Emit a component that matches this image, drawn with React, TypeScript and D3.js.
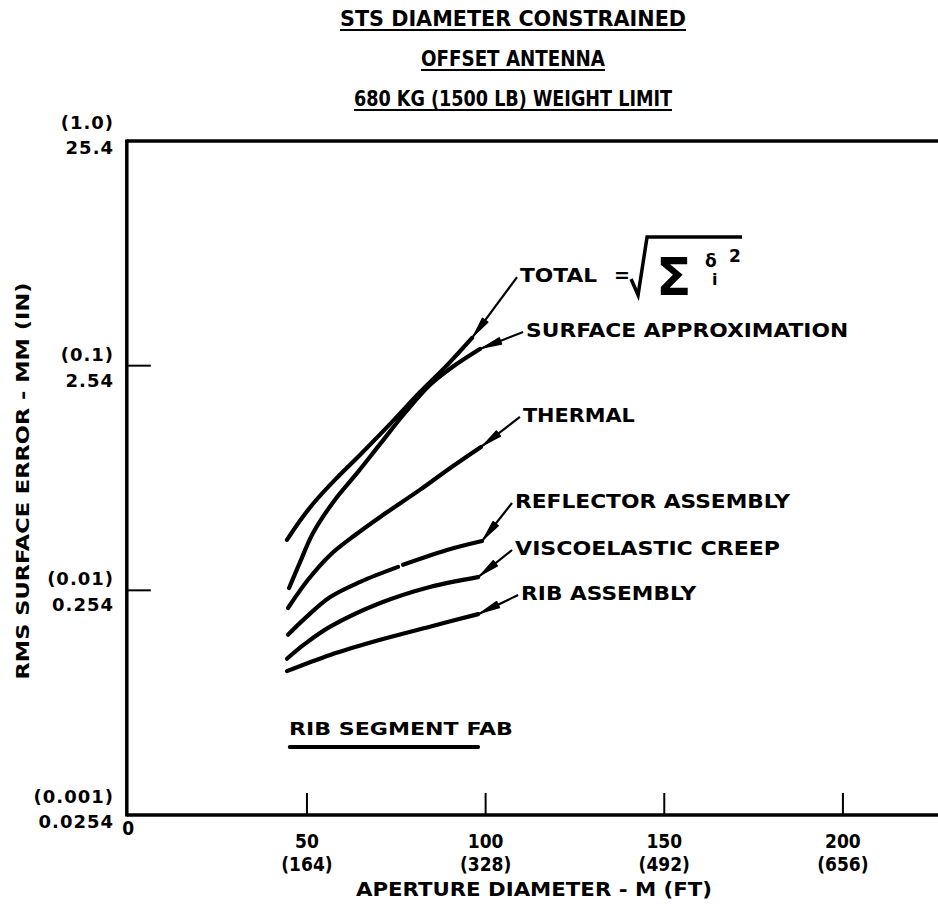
import React from "react";
import * as d3 from "d3";

// ---------- data ----------
const titleLines = ["STS DIAMETER CONSTRAINED", "OFFSET ANTENNA", "680 KG (1500 LB) WEIGHT LIMIT"];

const yTicksMM = [25.4, 2.54, 0.254, 0.0254];
const yTickLabelsMM = ["25.4", "2.54", "0.254", "0.0254"];
const yTickLabelsIN = ["(1.0)", "(0.1)", "(0.01)", "(0.001)"];

const xTicks = [0, 50, 100, 150, 200];
const xTickLabelsM = ["0", "50", "100", "150", "200"];
const xTickLabelsFT = ["", "(164)", "(328)", "(492)", "(656)"];

const xAxisTitle = "APERTURE DIAMETER - M (FT)";
const yAxisTitle = "RMS SURFACE ERROR - MM (IN)";

// aperture diameter (m) vs RMS surface error (mm)
const totalX = [44.4, 48.1, 52.3, 57.9, 64.9, 73.5, 81.6, 89.3, 96.2];
const totalY = [0.426, 0.520, 0.633, 0.790, 1.020, 1.409, 1.935, 2.560, 3.375];

const surfaceX = [45.0, 48.1, 51.7, 57.9, 64.3, 70.5, 77.4, 84.4, 90.6, 98.4];
const surfaceY = [0.260, 0.340, 0.457, 0.645, 0.855, 1.139, 1.564, 2.084, 2.500, 3.014];

const thermalX = [44.7, 50.3, 56.5, 63.5, 70.5, 81.6, 90.1, 98.7];
const thermalY = [0.212, 0.283, 0.365, 0.448, 0.539, 0.711, 0.890, 1.104];

// NaN marks the small break in the drawn line
const reflectorX = [44.7, 49.5, 56.5, 64.9, 75.5, 76.2, 76.9, 89.2, 99.0];
const reflectorY = [0.161, 0.191, 0.237, 0.277, 0.323, NaN, 0.330, 0.384, 0.421];

const viscoX = [44.4, 49.5, 56.5, 70.5, 84.4, 97.9];
const viscoY = [0.126, 0.147, 0.175, 0.223, 0.263, 0.291];

const ribX = [44.4, 56.5, 70.5, 84.4, 97.9];
const ribY = [0.111, 0.131, 0.153, 0.175, 0.199];

const seriesNames = ["TOTAL", "SURFACE APPROXIMATION", "THERMAL", "REFLECTOR ASSEMBLY", "VISCOELASTIC CREEP", "RIB ASSEMBLY"];

// label anchor (leader start) in data units
const labelAnchorX = [108.8, 110.5, 109.6, 107.4, 107.4, 109.1];
const labelAnchorY = [6.30, 3.587, 1.501, 0.622, 0.384, 0.242];

const ribSegmentFabLabel = "RIB SEGMENT FAB";
const ribSegmentFabRange = [45.2, 97.9];
const ribSegmentFabLevel = 0.051;

export default function App() {
  const W = 938, H = 909;
  const x = d3.scaleLinear().domain([0, 227]).range([128.3, 939.4]);
  const y = d3.scaleLog().domain([0.0254, 25.4]).range([815, 141]);

  const series = [
    [totalX, totalY],
    [surfaceX, surfaceY],
    [thermalX, thermalY],
    [reflectorX, reflectorY],
    [viscoX, viscoY],
    [ribX, ribY],
  ];

  const line = d3
    .line<[number, number]>()
    .defined((d) => !isNaN(d[1]))
    .x((d) => x(d[0]))
    .y((d) => y(d[1]))
    .curve(d3.curveCatmullRom.alpha(0.5));

  const font = "'DejaVu Sans', Verdana, sans-serif";
  const narrow = "'Liberation Sans Narrow', 'DejaVu Sans Condensed', 'DejaVu Sans', sans-serif";
  const ink = "#000";

  const labelWidths = [77, 322, 112, 275, 265, 175];
  const titleWidths = [346, 184, 318];

  const xAxisY = y(0.0254);
  const xLeft = x(0) - 1.5;

  return (
    <svg width={W} height={H} viewBox={`0 0 ${W} ${H}`} style={{ display: "block", position: "absolute", left: 0, top: 0, background: "#fff" }}>
      <rect x={0} y={0} width={W} height={H} fill="#fff" />
      {/* titles */}
      {titleLines.map((t, i) => {
        const cy = 26 + i * 40;
        const w = titleWidths[i];
        return (
          <g key={t}>
            <text x={513} y={cy} textAnchor="middle" fontFamily={narrow} fontWeight="bold" fontSize={21} textLength={w} lengthAdjust="spacingAndGlyphs" fill={ink}>
              {t}
            </text>
            <line x1={513 - w / 2} x2={513 + w / 2} y1={cy + 4} y2={cy + 4} stroke={ink} strokeWidth={2} />
          </g>
        );
      })}

      {/* axes frame */}
      <line x1={xLeft} x2={W} y1={y(25.4)} y2={y(25.4)} stroke={ink} strokeWidth={3.5} />
      <line x1={xLeft} x2={W} y1={xAxisY} y2={xAxisY} stroke={ink} strokeWidth={3.5} />
      <line x1={xLeft} x2={xLeft} y1={y(25.4) - 1.5} y2={xAxisY + 1.5} stroke={ink} strokeWidth={3.5} />

      {/* y ticks */}
      {yTicksMM.map((v, i) => {
        const ty = y(v);
        const end = i === 0 || i === yTicksMM.length - 1;
        return (
          <g key={"yt" + i}>
            {!end && <line x1={xLeft} x2={xLeft + 24} y1={ty} y2={ty} stroke={ink} strokeWidth={2} />}
            <text x={114} y={ty + (end ? -12 : -5)} textAnchor="end" fontFamily={font} fontWeight="bold" fontSize={18} letterSpacing={1} fill={ink}>
              {yTickLabelsIN[i]}
            </text>
            <text x={114} y={ty + (end ? 13 : 21)} textAnchor="end" fontFamily={font} fontWeight="bold" fontSize={18} letterSpacing={1} fill={ink}>
              {yTickLabelsMM[i]}
            </text>
          </g>
        );
      })}

      {/* x ticks */}
      {xTicks.map((v, i) => {
        const tx = x(v);
        return (
          <g key={"xt" + i}>
            {v !== 0 && <line x1={tx} x2={tx} y1={xAxisY} y2={xAxisY - 22} stroke={ink} strokeWidth={2} />}
            <text x={tx} y={v === 0 ? xAxisY + 20 : xAxisY + 33} textAnchor="middle" fontFamily={narrow} fontWeight="bold" fontSize={19} fill={ink}>
              {xTickLabelsM[i]}
            </text>
            {xTickLabelsFT[i] && (
              <text x={tx} y={xAxisY + 56} textAnchor="middle" fontFamily={narrow} fontWeight="bold" fontSize={19} fill={ink}>
                {xTickLabelsFT[i]}
              </text>
            )}
          </g>
        );
      })}
      <text x={534} y={xAxisY + 81} textAnchor="middle" fontFamily={narrow} fontWeight="bold" fontSize={20} textLength={356} lengthAdjust="spacingAndGlyphs" fill={ink}>
        {xAxisTitle}
      </text>
      <text transform={`translate(29, 481) rotate(-90)`} textAnchor="middle" fontFamily={font} fontWeight="bold" fontSize={18} textLength={397} lengthAdjust="spacingAndGlyphs" fill={ink}>
        {yAxisTitle}
      </text>

      {/* curves */}
      {series.map(([xs, ys], i) => {
        const pts = xs.map((xv, j) => [xv, ys[j]] as [number, number]);
        return <path key={"s" + i} d={line(pts) || ""} fill="none" stroke={ink} strokeWidth={4.2} strokeLinecap="round" />;
      })}

      {/* leaders + labels */}
      {series.map(([xs, ys], i) => {
        const tipX = x(xs[xs.length - 1]);
        const tipY = y(ys[ys.length - 1]);
        const ax = x(labelAnchorX[i]);
        const ay = y(labelAnchorY[i]);
        const dx = ax - tipX, dy = ay - tipY;
        const len = Math.hypot(dx, dy);
        const ux = dx / len, uy = dy / len;
        const px = -uy, py = ux;
        const t0 = 3, t1 = 22, hw = 3.3;
        const head = `M${tipX + ux * t0},${tipY + uy * t0} L${tipX + ux * t1 + px * hw},${tipY + uy * t1 + py * hw} L${tipX + ux * t1 - px * hw},${tipY + uy * t1 - py * hw} Z`;
        return (
          <g key={"l" + i}>
            <line x1={tipX} y1={tipY} x2={ax} y2={ay} stroke={ink} strokeWidth={2.2} />
            <path d={head} fill={ink} stroke={ink} strokeWidth={1.5} strokeLinejoin="round" />
            <text x={ax + 3} y={ay + 5} fontFamily={font} fontWeight="bold" fontSize={19} textLength={labelWidths[i]} lengthAdjust="spacingAndGlyphs" fill={ink}>
              {seriesNames[i]}
            </text>
            {i === 0 && (
              <g>
                <text x={ax + 97} y={ay + 5} fontFamily={font} fontWeight="bold" fontSize={19} fill={ink}>=</text>
                <path d={`M${ax + 114},${ay + 2} L${ax + 121},${ay + 18} L${ax + 130},${ay - 40} L${ax + 225},${ay - 40}`} fill="none" stroke={ink} strokeWidth={3.5} strokeLinejoin="miter" />
                <text x={ax + 139} y={ay + 18} fontFamily={font} fontWeight="bold" fontSize={52} fill={ink}>Σ</text>
                <text x={ax + 188} y={ay - 10} fontFamily={font} fontWeight="bold" fontSize={17} fill={ink}>δ</text>
                <text x={ax + 195} y={ay + 8} fontFamily={font} fontWeight="bold" fontSize={16} fill={ink}>i</text>
                <text x={ax + 212} y={ay - 15} fontFamily={font} fontWeight="bold" fontSize={17} fill={ink}>2</text>
              </g>
            )}
          </g>
        );
      })}

      {/* rib segment fab */}
      <text x={(x(ribSegmentFabRange[0]) + x(ribSegmentFabRange[1])) / 2 + 17} y={y(ribSegmentFabLevel) - 12} textAnchor="middle" fontFamily={font} fontWeight="bold" fontSize={18} textLength={224} lengthAdjust="spacingAndGlyphs" fill={ink}>
        {ribSegmentFabLabel}
      </text>
      <line x1={x(ribSegmentFabRange[0])} x2={x(ribSegmentFabRange[1])} y1={y(ribSegmentFabLevel)} y2={y(ribSegmentFabLevel)} stroke={ink} strokeWidth={4} strokeLinecap="round" />
    </svg>
  );
}
